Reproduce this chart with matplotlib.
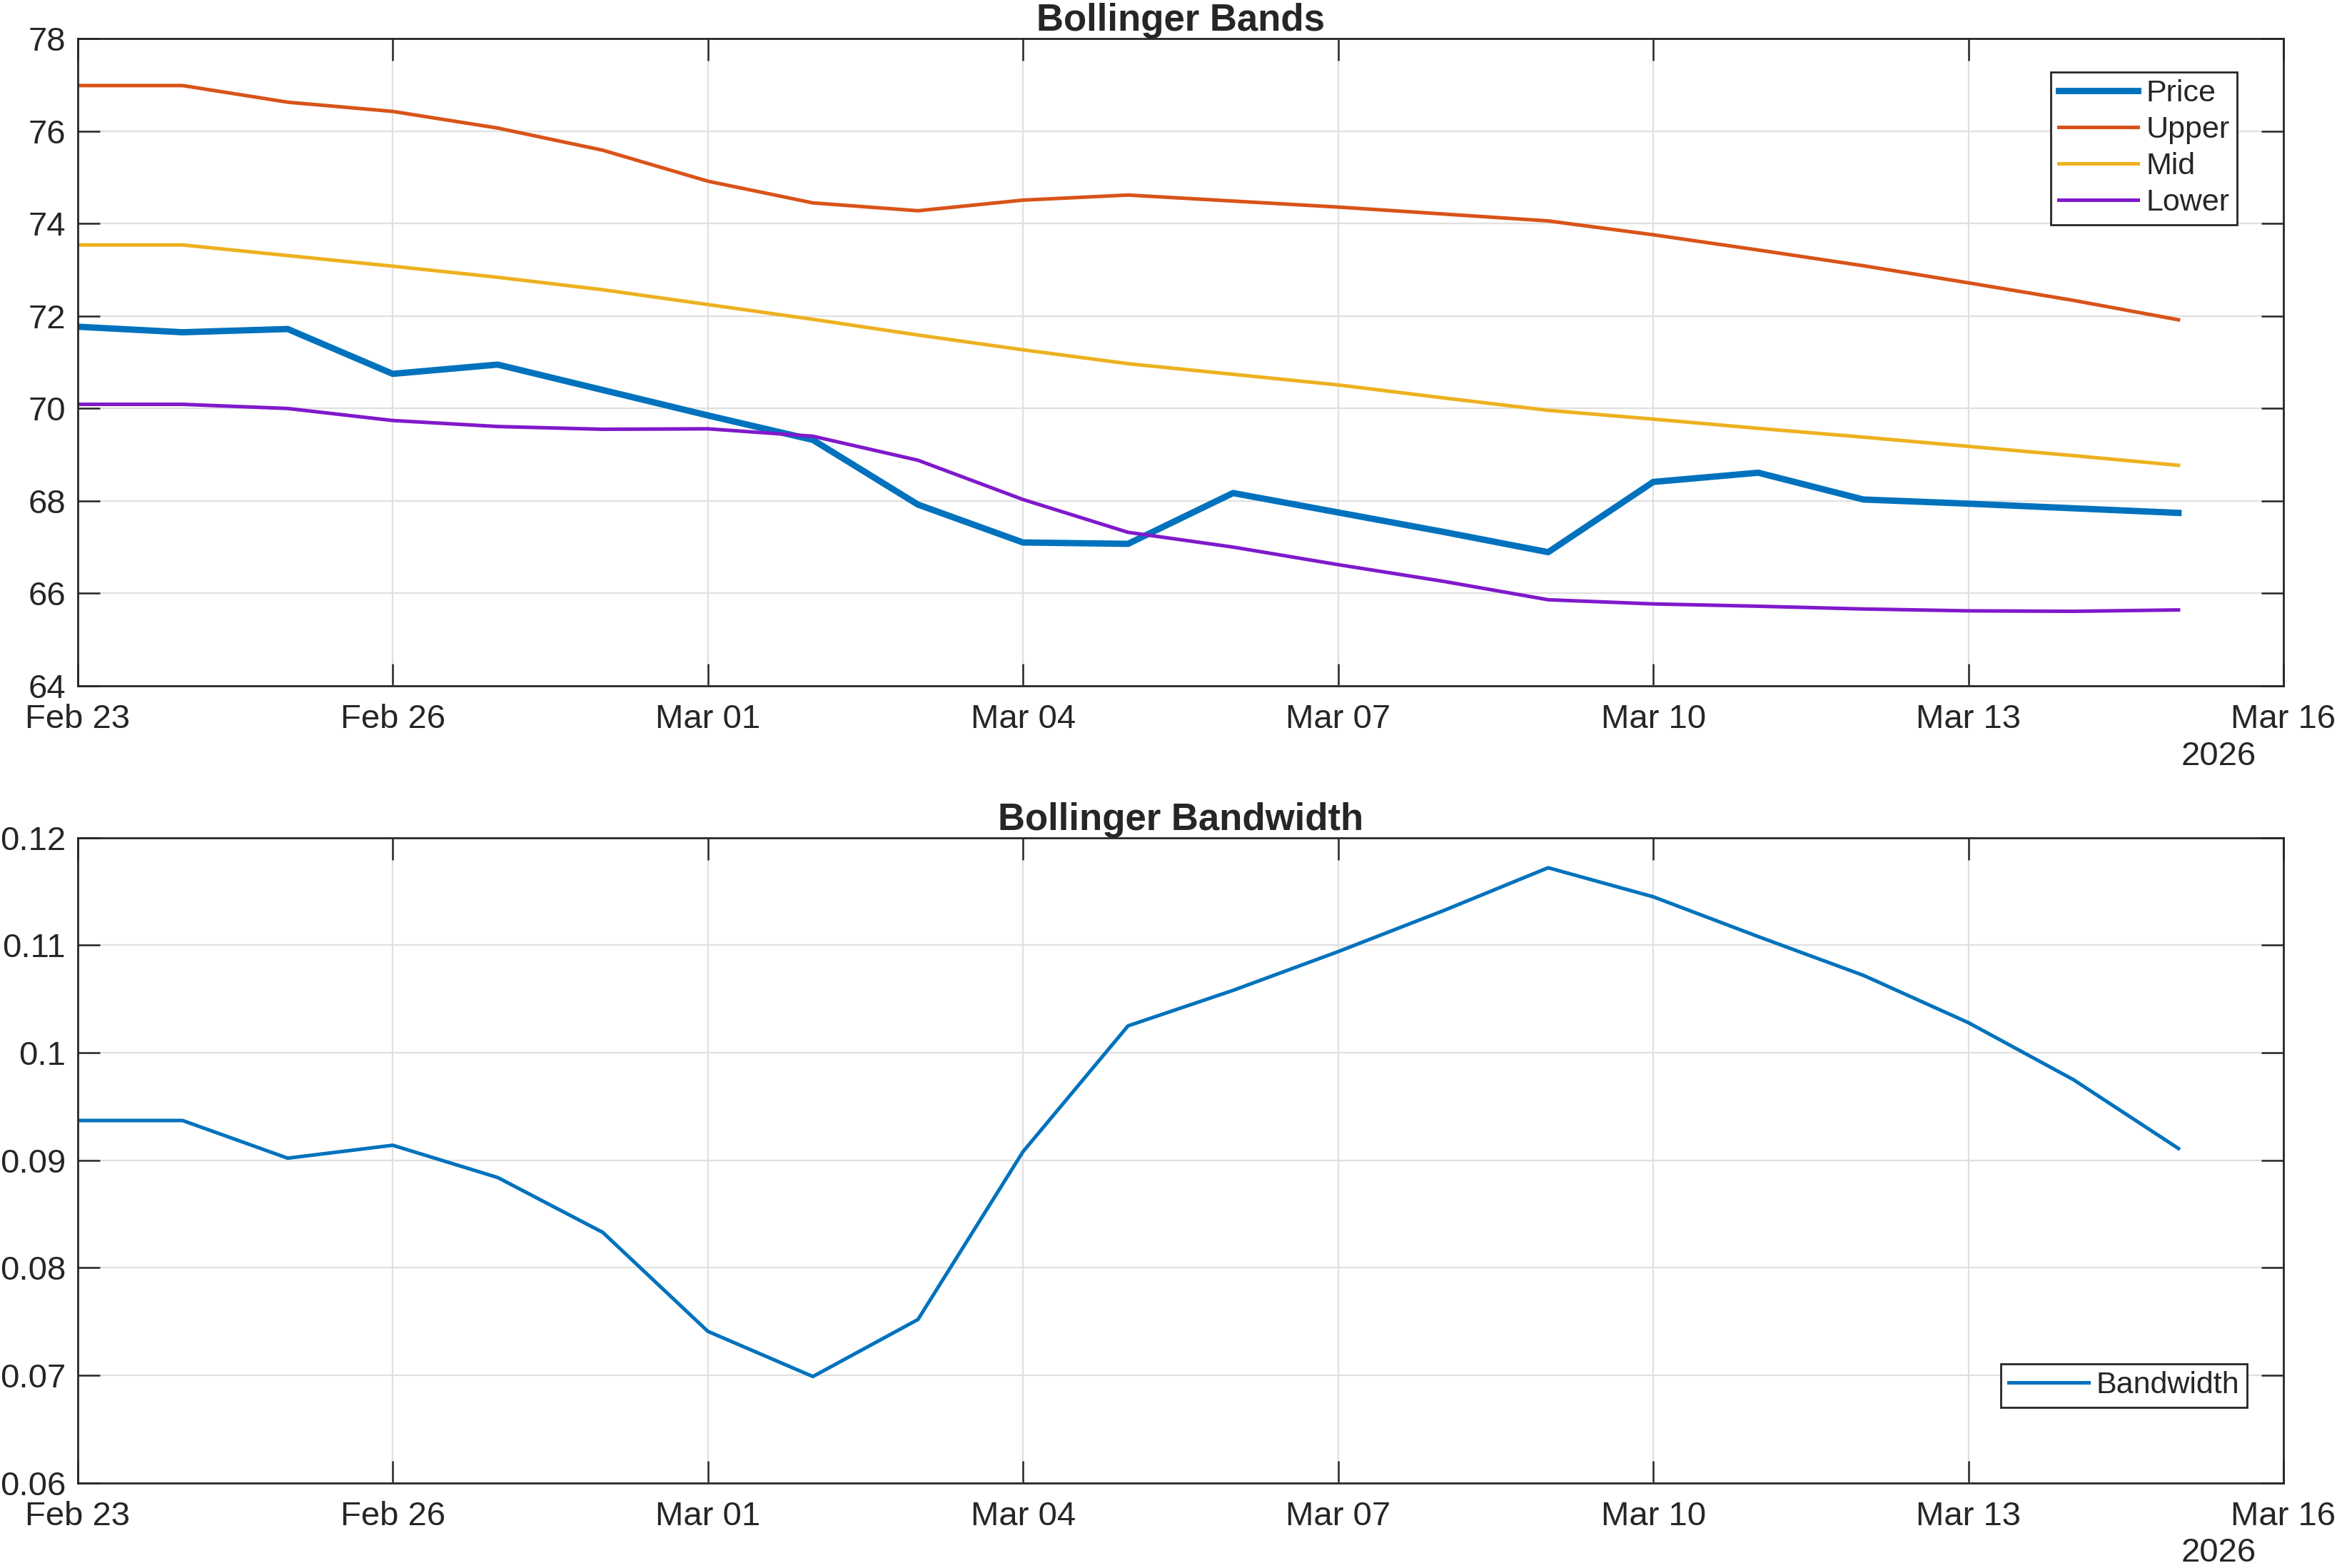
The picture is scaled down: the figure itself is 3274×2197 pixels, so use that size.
import matplotlib
matplotlib.use('Agg')
import matplotlib.pyplot as plt
import matplotlib.dates as mdates
import numpy as np
from datetime import datetime, timedelta

# daily data, Feb 23 .. Mar 15 2026
start = datetime(2026, 2, 23)
dates = [start + timedelta(days=i) for i in range(21)]

price = [71.77, 71.65, 71.72, 70.75, 70.95, 70.40, 69.85, 69.32, 67.92, 67.10, 67.07,
         68.17, 67.75, 67.33, 66.89, 68.41, 68.61, 68.03, 67.94, 67.84, 67.74]
upper = [76.99, 76.99, 76.63, 76.43, 76.07, 75.59, 74.92, 74.45, 74.28, 74.51, 74.62,
         74.49, 74.36, 74.21, 74.06, 73.76, 73.43, 73.09, 72.72, 72.34, 71.92]
mid = [73.54, 73.54, 73.31, 73.08, 72.84, 72.57, 72.25, 71.93, 71.59, 71.27, 70.97,
       70.74, 70.51, 70.23, 69.96, 69.77, 69.57, 69.38, 69.18, 68.98, 68.77]
lower = [70.09, 70.09, 70.00, 69.74, 69.61, 69.55, 69.56, 69.40, 68.88, 68.03, 67.32,
         67.00, 66.62, 66.26, 65.86, 65.77, 65.72, 65.66, 65.62, 65.61, 65.64]
bandwidth = [0.0937, 0.0937, 0.0902, 0.0914, 0.0884, 0.0833, 0.0741, 0.0699, 0.0752, 0.0908, 0.1025,
             0.1058, 0.1094, 0.1132, 0.1172, 0.1145, 0.1108, 0.1072, 0.1028, 0.0975, 0.0911]

plt.rcParams['font.family'] = ['Liberation Sans', 'DejaVu Sans']
txt = '#262626'

fig = plt.figure(figsize=(16.37, 10.985), dpi=200)
ax1 = fig.add_axes([0.0332, 0.5627, 0.9439, 0.4125])
ax2 = fig.add_axes([0.0332, 0.0542, 0.9439, 0.4116])


def style_axes(ax, title):
    ax.set_xlim(datetime(2026, 2, 23), datetime(2026, 3, 16))
    ax.xaxis.set_major_locator(mdates.DayLocator(bymonthday=[1, 4, 7, 10, 13, 16, 23, 26]))
    ax.xaxis.set_major_formatter(mdates.DateFormatter('%b %d'))
    ax.grid(True, color='#e0e0e0', linewidth=0.8)
    ax.set_axisbelow(True)
    ax.tick_params(direction='in', length=11, width=0.9, color=txt, labelcolor=txt,
                   labelsize=17, top=True, right=True, pad=6)
    ax.tick_params(axis='x', pad=9)
    for s in ax.spines.values():
        s.set_color(txt)
        s.set_linewidth(1.0)
    ax.set_title(title, fontsize=19, fontweight='bold', color=txt, pad=4)
    ax.text(0.9706, -0.109, '2026', transform=ax.transAxes, ha='center', va='center',
            fontsize=17, color=txt)


ax1.plot(dates, price, color='#0072BD', linewidth=3.2, label='Price')
ax1.plot(dates, upper, color='#D95319', linewidth=1.8, label='Upper')
ax1.plot(dates, mid, color='#EDB120', linewidth=1.8, label='Mid')
ax1.plot(dates, lower, color='#8019CC', linewidth=1.8, label='Lower')
ax1.set_ylim(64, 78)
ax1.set_yticks(np.arange(64, 79, 2))
style_axes(ax1, 'Bollinger Bands')
leg1 = ax1.legend(loc='upper right', bbox_to_anchor=(0.979, 0.949), borderaxespad=0,
                  fontsize=15.5, fancybox=False, framealpha=1, edgecolor=txt,
                  handlelength=2.6, handletextpad=0.25, labelspacing=0.25, borderpad=0.25)
leg1.get_frame().set_linewidth(1.0)
for t in leg1.get_texts():
    t.set_color(txt)

ax2.plot(dates, bandwidth, color='#0072BD', linewidth=1.8, label='Bandwidth')
ax2.set_ylim(0.06, 0.12)
ax2.set_yticks(np.arange(0.06, 0.1201, 0.01))
ax2.yaxis.set_major_formatter(matplotlib.ticker.FuncFormatter(lambda v, p: '%g' % round(v, 3)))
style_axes(ax2, 'Bollinger Bandwidth')
leg2 = ax2.legend(loc='lower right', bbox_to_anchor=(0.9835, 0.117), borderaxespad=0,
                  fontsize=15.5, fancybox=False, framealpha=1, edgecolor=txt,
                  handlelength=2.6, handletextpad=0.25, borderpad=0.25)
leg2.get_frame().set_linewidth(1.0)
for t in leg2.get_texts():
    t.set_color(txt)

fig.savefig('out.png', dpi=200)
